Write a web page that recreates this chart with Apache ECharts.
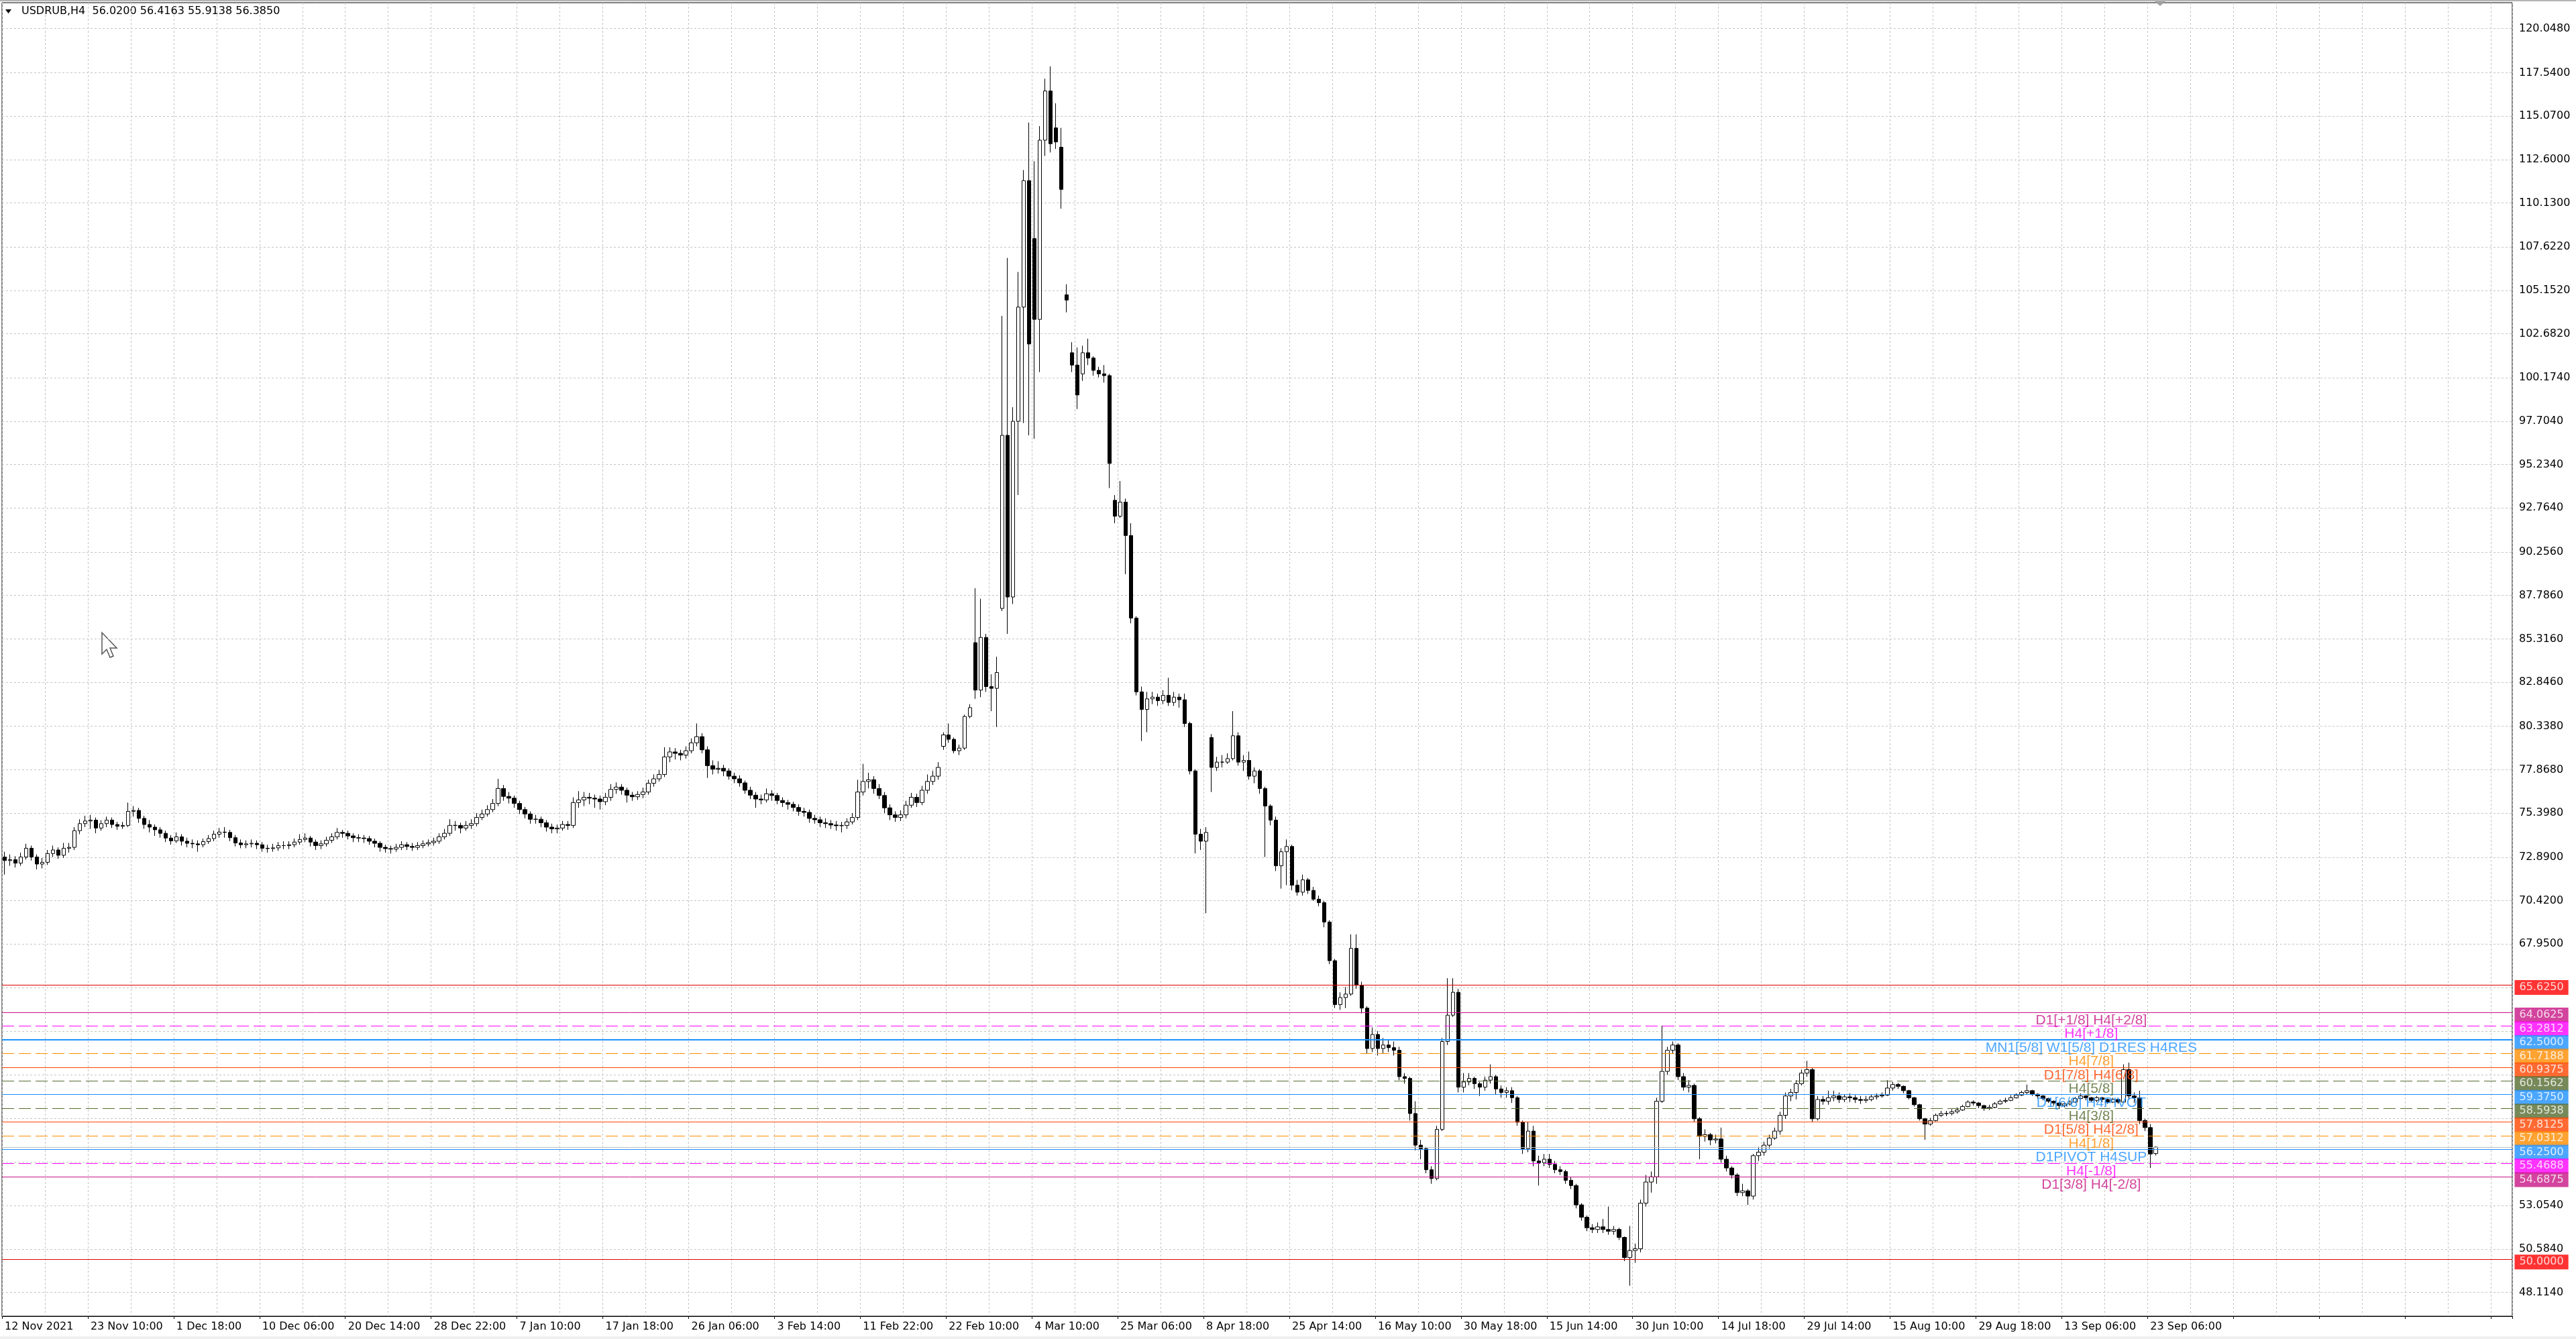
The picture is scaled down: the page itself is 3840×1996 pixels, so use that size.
<!DOCTYPE html>
<html><head><meta charset="utf-8">
<script src="https://cdn.jsdelivr.net/npm/echarts@6/dist/echarts.min.js"></script>
<style>html,body{margin:0;padding:0;background:#fff}#c{width:3840px;height:1996px}</style>
</head><body><div id="c"></div><script>
const timeLabels = ['12 Nov 2021','23 Nov 10:00','1 Dec 18:00','10 Dec 06:00','20 Dec 14:00','28 Dec 22:00','7 Jan 10:00','17 Jan 18:00','26 Jan 06:00','3 Feb 14:00','11 Feb 22:00','22 Feb 10:00','4 Mar 10:00','25 Mar 06:00','8 Apr 18:00','25 Apr 14:00','16 May 10:00','30 May 18:00','15 Jun 14:00','30 Jun 10:00','14 Jul 18:00','29 Jul 14:00','15 Aug 10:00','29 Aug 18:00','13 Sep 06:00','23 Sep 06:00'];
const priceTicks = [120.048,117.54,115.07,112.6,110.13,107.622,105.152,102.682,100.174,97.704,95.234,92.764,90.256,87.786,85.316,82.846,80.338,77.868,75.398,72.89,70.42,67.95,65.48,62.972,60.502,58.032,55.524,53.054,50.584,48.114];
const priceLabels = [120.048,117.54,115.07,112.6,110.13,107.622,105.152,102.682,100.174,97.704,95.234,92.764,90.256,87.786,85.316,82.846,80.338,77.868,75.398,72.89,70.42,67.95,53.054,50.584,48.114];

const firstOpen = 72.9;
const closes = [72.7,72.75,72.55,72.9,73.4,72.9,72.5,72.6,73.1,73.3,
73.0,73.4,73.45,74.4,74.8,74.95,75.0,74.55,74.8,75.0,
74.75,74.65,74.7,75.5,75.55,75.1,74.75,74.6,74.45,74.25,
73.98,73.82,74.05,73.8,73.68,73.65,73.6,73.78,73.95,74.2,
74.32,74.3,74.0,73.7,73.6,73.65,73.68,73.6,73.4,73.38,
73.42,73.55,73.55,73.6,73.75,73.9,73.98,73.75,73.55,73.65,
73.85,74.05,74.3,74.25,74.1,74.0,73.98,73.95,73.8,73.68,
73.45,73.38,73.35,73.45,73.6,73.5,73.45,73.55,73.65,73.72,
73.8,74.05,74.25,74.7,74.7,74.55,74.7,74.8,75.15,75.35,
75.6,75.95,76.8,76.35,76.25,75.95,75.6,75.35,75.05,75.05,
74.85,74.6,74.5,74.55,74.75,74.7,76.0,76.15,76.3,76.25,
76.2,76.05,76.3,76.75,76.88,76.7,76.42,76.33,76.46,76.6,
77.1,77.35,77.6,78.6,78.88,78.8,78.7,78.95,79.4,79.75,
79.0,78.1,77.9,77.95,77.8,77.5,77.35,77.12,76.7,76.42,
76.2,76.15,76.5,76.4,76.12,76.0,75.9,75.72,75.5,75.44,
75.1,75.02,74.85,74.8,74.72,74.68,74.7,74.9,75.15,76.6,77.2,
77.3,76.8,76.4,75.7,75.3,75.15,75.3,75.85,76.3,76.0,
76.7,77.2,77.5,78.0,
79.85,79.6,78.95,79.1,80.9,81.4,82.4,85.4,82.6,82.5,83.4,
96.9,87.7,97.7,104.2,111.4,102.1,103.5,113.7,116.5,113.5,
113.6,110.9,104.6,100.9,99.2,101.6,101.3,100.6,100.4,100.3,
95.3,92.3,93.1,91.2,86.5,82.3,81.3,81.9,82.0,81.8,
82.1,81.7,82.0,81.85,80.5,77.8,74.2,73.8,74.3,78.0,
78.3,78.3,78.5,79.8,78.3,78.4,77.5,77.8,76.8,75.8,
75.0,72.4,73.2,73.5,71.3,70.9,71.6,71.0,70.5,70.3,
69.2,67.0,64.5,64.9,65.1,67.7,65.6,64.3,62.0,62.8,
62.0,62.2,62.05,61.9,60.4,60.3,58.3,56.5,56.3,55.1,
54.6,57.4,62.4,63.9,65.2,59.8,60.1,60.3,60.0,59.8,
60.2,60.4,59.7,59.5,59.6,59.2,57.8,56.3,57.3,55.6,
55.5,55.7,55.4,55.1,55.0,54.5,54.2,53.1,52.4,51.8,
51.7,51.85,51.7,51.6,51.7,51.25,50.1,50.5,50.6,53.2,
54.4,54.7,59.0,60.7,61.9,62.2,60.4,59.8,59.9,58.0,
57.0,57.1,56.8,56.85,55.7,55.2,54.8,53.8,53.9,53.6,
55.9,56.1,56.5,56.9,57.3,58.2,59.3,59.5,60.0,60.6,
60.8,58.0,59.1,59.0,59.2,59.3,59.1,59.25,59.2,59.1,
59.05,59.1,59.25,59.3,59.35,59.75,59.95,59.85,59.6,
59.2,58.8,58.0,57.7,57.9,58.2,58.3,58.3,58.4,58.5,
58.7,58.95,58.9,58.75,58.6,58.65,58.85,59.0,59.05,59.2,
59.35,59.5,59.6,59.4,59.3,59.15,59.0,58.9,58.75,58.85,
58.95,59.15,59.3,59.2,59.05,59.2,59.1,58.95,59.1,58.95,
60.8,59.3,59.2,57.9,57.5,56.0,56.385];
const highs = [73.2,73.05,72.95,73.15,73.65,73.55,73.05,72.85,73.3,73.55,
73.45,73.7,73.7,74.6,75.05,75.25,75.3,75.15,75.0,75.2,
75.15,74.9,74.9,76.0,75.8,75.7,75.25,75.0,74.75,74.6,
74.4,74.15,74.3,74.2,74.0,73.9,73.85,73.95,74.15,74.4,
74.55,74.6,74.45,74.15,73.9,73.85,73.9,73.85,73.75,73.6,
73.65,73.75,73.8,73.8,73.95,74.2,74.25,74.1,73.9,73.85,
74.05,74.25,74.55,74.45,74.4,74.25,74.2,74.15,74.1,73.95,
73.8,73.6,73.55,73.65,73.8,73.75,73.7,73.75,73.85,73.9,
74.0,74.25,74.5,75.05,74.95,74.85,74.95,75.05,75.4,75.6,
75.85,76.2,77.35,77.0,76.6,76.4,76.1,75.75,75.5,75.3,
75.2,75.0,74.8,74.75,74.95,74.95,76.3,76.65,76.6,76.55,
76.45,76.4,76.55,77.05,77.15,77.05,76.85,76.6,76.65,76.85,
77.3,77.6,77.85,79.15,79.15,79.1,79.0,79.2,79.65,80.5,
79.95,79.2,78.4,78.35,78.15,77.95,77.7,77.55,77.25,76.9,
76.6,76.45,76.8,76.7,76.55,76.3,76.15,76.05,75.9,75.7,
75.6,75.3,75.2,75.1,75.0,74.95,74.9,75.1,75.4,77.3,78.2,
77.7,77.5,77.05,76.6,75.9,75.5,75.55,76.1,76.55,76.5,
76.95,77.6,77.8,78.3,
80.0,80.5,79.7,79.3,81.0,81.6,88.2,87.6,85.6,83.3,84.3,
103.7,107.0,98.5,106.2,112.0,114.7,112.5,114.5,117.2,117.9,
115.8,114.4,105.5,102.2,101.9,102.0,102.4,101.4,100.8,100.9,
100.4,93.5,94.3,93.3,91.9,86.6,82.6,82.3,82.3,82.2,
82.4,83.1,82.3,82.2,82.2,80.6,77.9,74.5,74.6,79.9,
78.6,78.7,78.8,81.2,80.0,78.7,78.9,78.0,77.9,76.9,
75.9,75.2,73.4,73.9,73.6,71.6,71.9,71.7,71.2,70.7,
70.4,69.3,67.1,65.2,65.5,68.5,68.5,65.8,64.4,63.2,
63.0,62.6,62.5,62.4,62.1,60.6,60.4,59.0,56.8,56.4,
55.3,57.6,62.6,66.0,66.0,65.4,60.6,60.6,60.4,60.1,
60.4,61.1,60.5,59.9,59.8,59.8,59.3,57.9,57.8,57.6,
55.9,56.0,56.0,55.6,55.3,55.1,54.7,54.3,53.2,52.5,
52.0,52.1,52.3,53.0,51.9,51.8,51.3,51.9,50.9,53.4,
54.8,55.0,59.2,63.3,62.1,62.4,62.3,60.6,60.2,60.0,
58.1,57.4,57.2,57.1,57.5,55.9,55.3,54.9,54.3,54.0,
56.0,56.4,56.7,57.1,57.5,58.4,59.5,59.7,60.2,60.8,
61.3,60.9,59.3,59.3,59.6,59.6,59.5,59.4,59.45,59.35,
59.3,59.3,59.4,59.45,59.5,60.2,60.1,60.05,59.9,
59.65,59.25,58.85,58.05,58.05,58.3,58.45,58.45,58.55,58.65,
58.8,59.05,59.05,58.95,58.8,58.8,58.95,59.1,59.2,59.35,
59.45,59.6,59.95,59.65,59.45,59.35,59.2,59.05,58.95,58.95,
59.05,59.25,59.45,59.35,59.25,59.3,59.25,59.15,59.2,59.15,
61.1,61.2,59.5,59.6,58.0,57.7,56.4163];
const lows = [71.9,72.4,72.3,72.4,72.75,72.7,72.2,72.25,72.45,72.9,
72.8,72.85,73.15,73.3,74.2,74.6,74.5,74.25,74.4,74.6,
74.55,74.45,74.5,74.6,75.2,74.85,74.5,74.3,74.1,74.0,
73.75,73.6,73.7,73.55,73.45,73.4,73.2,73.45,73.65,73.8,
74.0,74.0,73.8,73.5,73.4,73.4,73.45,73.35,73.2,73.15,
73.2,73.25,73.35,73.35,73.45,73.6,73.75,73.5,73.3,73.35,
73.5,73.7,73.9,74.0,73.9,73.75,73.75,73.7,73.6,73.45,
73.2,73.15,73.1,73.2,73.3,73.3,73.25,73.3,73.4,73.5,
73.55,73.65,73.9,74.1,74.4,74.25,74.4,74.5,74.65,75.0,
75.2,75.45,75.8,76.1,75.95,75.7,75.35,75.1,74.8,74.8,
74.6,74.35,74.25,74.25,74.4,74.45,74.55,75.7,75.8,75.9,
75.7,75.6,75.85,76.1,76.5,76.45,76.0,76.1,76.15,76.25,
76.45,76.9,77.2,77.45,78.3,78.45,78.4,78.5,78.8,79.2,
78.8,77.4,77.6,77.65,77.5,77.3,77.1,76.9,76.5,76.2,
75.7,75.9,76.0,76.1,75.9,75.75,75.6,75.5,75.25,75.2,
74.85,74.8,74.6,74.55,74.5,74.4,74.3,74.5,74.75,75.0,76.4,
76.8,76.5,76.2,75.4,75.0,74.9,74.95,75.1,75.7,75.75,
75.85,76.5,77.0,77.3,
79.0,79.4,78.8,78.7,79.0,80.8,81.9,82.0,82.3,81.2,80.3,
86.9,85.6,87.3,93.5,97.6,96.9,96.7,100.5,112.8,113.0,
113.2,109.8,103.9,100.5,98.4,100.0,100.9,100.3,100.2,99.9,
93.9,91.9,92.2,89.0,86.2,82.1,79.5,80.0,81.6,81.5,
81.6,81.5,81.5,81.4,80.3,77.6,73.1,73.3,69.7,76.6,
77.8,78.0,78.2,78.4,78.1,77.8,77.3,77.1,76.5,72.9,
74.7,72.1,71.1,71.3,71.0,70.7,70.7,70.8,70.4,70.1,
68.9,66.8,64.3,64.2,64.3,65.0,65.4,64.0,61.7,61.8,
61.6,61.7,61.8,61.6,60.2,60.0,57.9,56.2,55.7,54.9,
54.3,54.5,57.3,62.2,63.8,59.5,59.5,59.9,59.7,59.3,
59.6,60.0,59.4,59.2,59.2,58.9,57.6,56.0,56.1,55.3,
54.2,55.3,55.2,54.9,54.8,54.3,54.0,52.9,52.2,51.6,
51.5,51.5,51.5,51.4,51.4,51.1,49.9,48.5,49.8,50.4,
53.0,53.8,54.3,58.9,60.5,61.7,60.2,59.6,59.5,57.8,
55.7,56.7,56.5,56.6,55.5,55.0,54.6,53.6,53.6,53.1,
53.4,55.6,55.9,56.3,56.8,57.1,58.0,59.0,59.1,59.9,
60.4,57.8,57.9,58.8,58.8,59.0,58.9,58.95,58.95,58.9,
58.85,58.9,59.0,59.1,59.2,59.3,59.6,59.7,59.45,
59.1,58.7,57.9,56.8,57.6,57.85,58.1,58.15,58.2,58.3,
58.45,58.65,58.75,58.6,58.45,58.5,58.6,58.8,58.9,59.0,
59.15,59.3,59.4,59.3,59.15,59.05,58.9,58.75,58.6,58.65,
58.75,58.9,59.1,59.05,58.95,58.95,58.95,58.85,58.9,58.85,
58.9,59.1,58.9,57.7,57.3,55.2,55.9138];
const gapOpens = {175: 79.2, 181: 85.1, 186: 87.05, 192: 108.1, 196: 114.4, 197: 113.3, 198: 104.9, 199: 101.6, 201: 100.4, 207: 93.2, 225: 79.7, 401: 56.02};

const levelPrices = [65.625, 64.0625, 63.2812, 62.5, 61.7188, 60.9375, 60.1562, 59.375, 58.5938, 57.8125, 57.0312, 56.25, 55.4688, 54.6875, 50];
const levelColors = ['#E00000','#C71585','#FF00FF','#1E90FF','#FF8C00','#FF4500','#556B2F','#1E90FF','#556B2F','#FF4500','#FF8C00','#1E90FF','#FF00FF','#C71585','#E00000'];
const levelBoxColors = ['#FF0000','#C71585','#FF00FF','#1E90FF','#FF8C00','#FF4500','#556B2F','#1E90FF','#556B2F','#FF4500','#FF8C00','#1E90FF','#FF00FF','#C71585','#FF0000'];
const levelDashed = [false,false,true,false,true,false,true,false,true,false,true,false,true,false,false];
const levelWidths = [1,1,1,2,1,1,1,1,1,1,1,1,1,1,1];
const levelTexts = ['', 'D1[+1/8] H4[+2/8]', 'H4[+1/8]', 'MN1[5/8] W1[5/8] D1RES H4RES', 'H4[7/8]', 'D1[7/8] H4[6/8]', 'H4[5/8]', 'D1[6/8] H4PIVOT', 'H4[3/8]', 'D1[5/8] H4[2/8]', 'H4[1/8]', 'D1PIVOT H4SUP', 'H4[-1/8]', 'D1[3/8] H4[-2/8]', ''];
const bidPrice = 56.385;
const titleText = 'USDRUB,H4  56.0200 56.4163 55.9138 56.3850';

const SLOTS = 468, LABEL_EVERY = 16, GRID_EVERY = 8, TEXT_SLOT = 389;
const cats = Array.from({length: SLOTS}, (_, i) => String(i));
const candles = closes.map((c, i) => {
  const o = (i in gapOpens) ? gapOpens[i] : (i === 0 ? firstOpen : closes[i - 1]);
  return [o, c, lows[i], highs[i]];
});

const chart = echarts.init(document.getElementById('c'), null, {renderer: 'canvas'});
const axisFont = 'DejaVu Sans';
chart.setOption({
  animation: false,
  backgroundColor: '#ffffff',
  grid: {left: 3, right: 95, top: 4, bottom: 34, show: true, borderColor: '#000', borderWidth: 1, backgroundColor: 'transparent'},
  xAxis: {
    type: 'category', data: cats, boundaryGap: true,
    axisLine: {show: true, lineStyle: {color: '#000', width: 1}},
    axisTick: {show: true, interval: LABEL_EVERY - 1, length: 4, lineStyle: {color: '#000'}},
    axisLabel: {interval: LABEL_EVERY - 1, align: 'left', margin: 8, color: '#000', fontFamily: axisFont, fontSize: 16,
      formatter: (v, idx) => (idx % LABEL_EVERY === 0 && timeLabels[idx / LABEL_EVERY]) ? timeLabels[idx / LABEL_EVERY] : ''},
    splitLine: {show: true, interval: GRID_EVERY - 1, lineStyle: {color: '#C4C4C4', type: [3, 3], width: 1}}
  },
  yAxis: {
    type: 'value', position: 'right', min: 46.765, max: 121.526, scale: true,
    axisLine: {show: false},
    axisTick: {show: false, customValues: priceTicks},
    axisLabel: {customValues: priceLabels, margin: 10, color: '#000', fontFamily: axisFont, fontSize: 16, formatter: v => v.toFixed(4)},
    splitLine: {show: true, lineStyle: {color: '#C4C4C4', type: [3, 3], width: 1}}
  },
  series: [
    {
      type: 'candlestick', data: candles, barWidth: 6, z: 3,
      itemStyle: {color: '#ffffff', color0: '#000000', borderColor: '#000000', borderColor0: '#000000', borderColorDoji: '#000000', borderWidth: 1},
      markLine: {
        silent: true, symbol: ['none', 'none'], animation: false, label: {show: false},
        data: [{yAxis: bidPrice, lineStyle: {color: '#C0C0C0', width: 1, type: 'solid'}}].concat(
          levelPrices.map((p, i) => ({yAxis: p, lineStyle: {color: levelColors[i], width: levelWidths[i], type: levelDashed[i] ? [18, 7] : 'solid'}})))
      }
    },
    {
      type: 'scatter', z: 5, silent: true, symbolSize: 1, itemStyle: {color: 'rgba(0,0,0,0)'},
      data: levelPrices.map((p, i) => levelTexts[i] ? {value: [TEXT_SLOT, p], label: {formatter: levelTexts[i], color: levelColors[i]}} : null).filter(Boolean),
      label: {show: true, position: 'bottom', distance: 1, fontFamily: 'Liberation Sans', fontSize: 21, lineHeight: 21}
    },
    {
      type: 'scatter', z: 6, silent: true, symbolSize: 1, itemStyle: {color: 'rgba(0,0,0,0)'},
      data: levelPrices.map((p, i) => ({value: [SLOTS - 1, p], label: {backgroundColor: levelBoxColors[i]}})),
      label: {show: true, position: 'right', distance: 7, offset: [0, 4], color: '#fff', fontFamily: axisFont, fontSize: 16, lineHeight: 17, padding: [3, 7, 2, 7],
        formatter: prm => prm.value[1].toFixed(4)}
    }
  ],
  graphic: [
    {type: 'rect', left: 0, top: 0, shape: {width: 3840, height: 2}, style: {fill: '#B4B4B4'}, silent: true},
    {type: 'rect', left: 0, top: 1992, shape: {width: 3840, height: 4}, style: {fill: '#F0F0F0'}, silent: true},
    {type: 'polygon', shape: {points: [[8, 14], [17, 14], [12.5, 20]]}, style: {fill: '#000'}, silent: true},
    {type: 'text', left: 32, top: 9, style: {text: titleText, fill: '#000', font: '16px "DejaVu Sans"'}, silent: true},
    {type: 'polygon', shape: {points: [[3212, 2], [3228, 2], [3220, 9]]}, style: {fill: '#A0A0A0'}, silent: true},
    {type: 'polygon', x: 152, y: 943, shape: {points: [[0, 0], [0, 32], [7, 25], [12, 37], [17, 35], [12, 23], [22, 23]]}, style: {fill: '#ffffff', stroke: '#555', lineWidth: 1.5}, silent: true}
  ]
});
</script></body></html>
